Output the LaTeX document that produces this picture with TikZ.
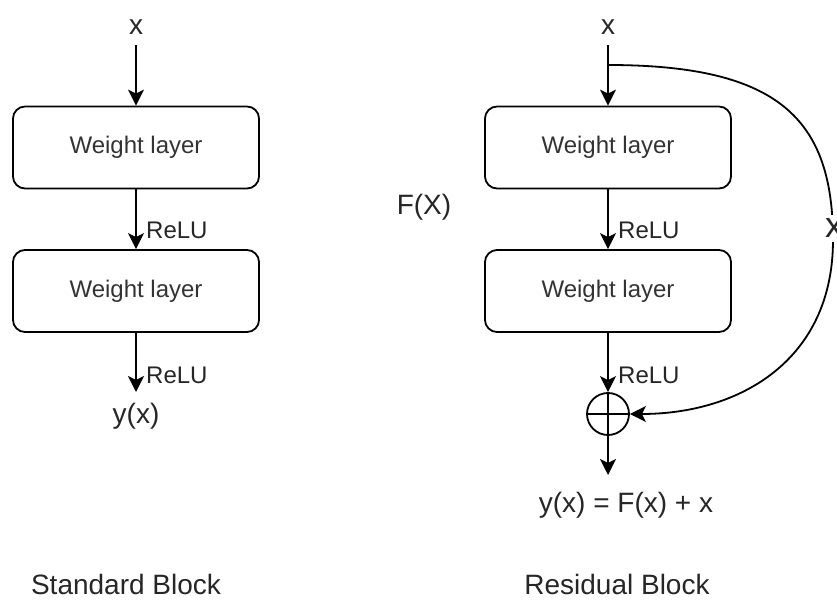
\documentclass[tikz,border=0pt]{standalone}
\usepackage{fontspec}
\setmainfont{Liberation Sans}
\usetikzlibrary{arrows.meta}
\begin{document}
\begin{tikzpicture}[x=1pt,y=-1pt,
  box/.style={draw, line width=1.8pt, rounded corners=12pt, minimum width=246pt, minimum height=82pt, inner sep=0pt, font=\fontsize{24}{28}\selectfont, text=black!80},
  lbl/.style={inner sep=0pt, font=\fontsize{24}{28}\selectfont, text=black!85},
  big/.style={inner sep=0pt, font=\fontsize{28}{32}\selectfont, text=black!85},
  arr/.style={line width=1.8pt, -{Stealth[length=16pt,width=16pt,inset=4pt]}},
  ln/.style={line width=1.8pt}]
\useasboundingbox (0,0) rectangle (837,601);
% ---------- standard block ----------
\node[big, anchor=base] (lx) at (136,35) {x};
\node[box] (l1) at (136,147.5) {Weight layer};
\node[box] (l2) at (136,291) {Weight layer};
\node[lbl, anchor=base west] (lr1) at (146,239) {ReLU};
\node[lbl, anchor=base west] (lr2) at (146,383) {ReLU};
\coordinate (lend) at (136,392);
\node[big, anchor=base] (ly) at (136,423) {y(x)};
\draw[arr] ([yshift=-10pt]lx.south) -- (l1.north);
\draw[arr] (l1.south) -- (l2.north);
\draw[arr] (l2.south) -- (lend);
% ---------- residual block ----------
\node[big, anchor=base] (rx) at (608,35) {x};
\node[box] (r1) at (608,147.5) {Weight layer};
\node[box] (r2) at (608,291) {Weight layer};
\node[lbl, anchor=base west] (rr1) at (618,239) {ReLU};
\node[lbl, anchor=base west] (rr2) at (618,383) {ReLU};
\node[draw, circle, line width=1.8pt, minimum size=42pt, inner sep=0pt] (sum) at (608,414) {};
\draw[ln] (sum.north) -- (sum.south) (sum.west) -- (sum.east);
\coordinate (rend) at (608,475);
\node[big, anchor=base] (ry) at (626,512) {y(x) = F(x) + x};
\node[big, anchor=base] (fx) at (424,215) {F(X)};
\coordinate (br) at (608,65);
\draw[arr] ([yshift=-10pt]rx.south) -- (r1.north);
\draw[arr] (r1.south) -- (r2.north);
\draw[arr] (r2.south) -- (sum.north);
\draw[arr] (sum.south) -- (rend);
\draw[arr] (br) .. controls (780,65) and (833,120) .. (833,240) .. controls (833,360) and (740,414) .. (sum.east);
\node[fill=white, inner sep=4pt, font=\fontsize{36}{40}\selectfont, text=black!85, anchor=base] (sx) at (834,238) {x};
% ---------- captions ----------
\node[big, anchor=base] (sb) at (126,594) {Standard Block};
\node[big, anchor=base] (rb) at (617,594) {Residual Block};
\end{tikzpicture}
\end{document}
